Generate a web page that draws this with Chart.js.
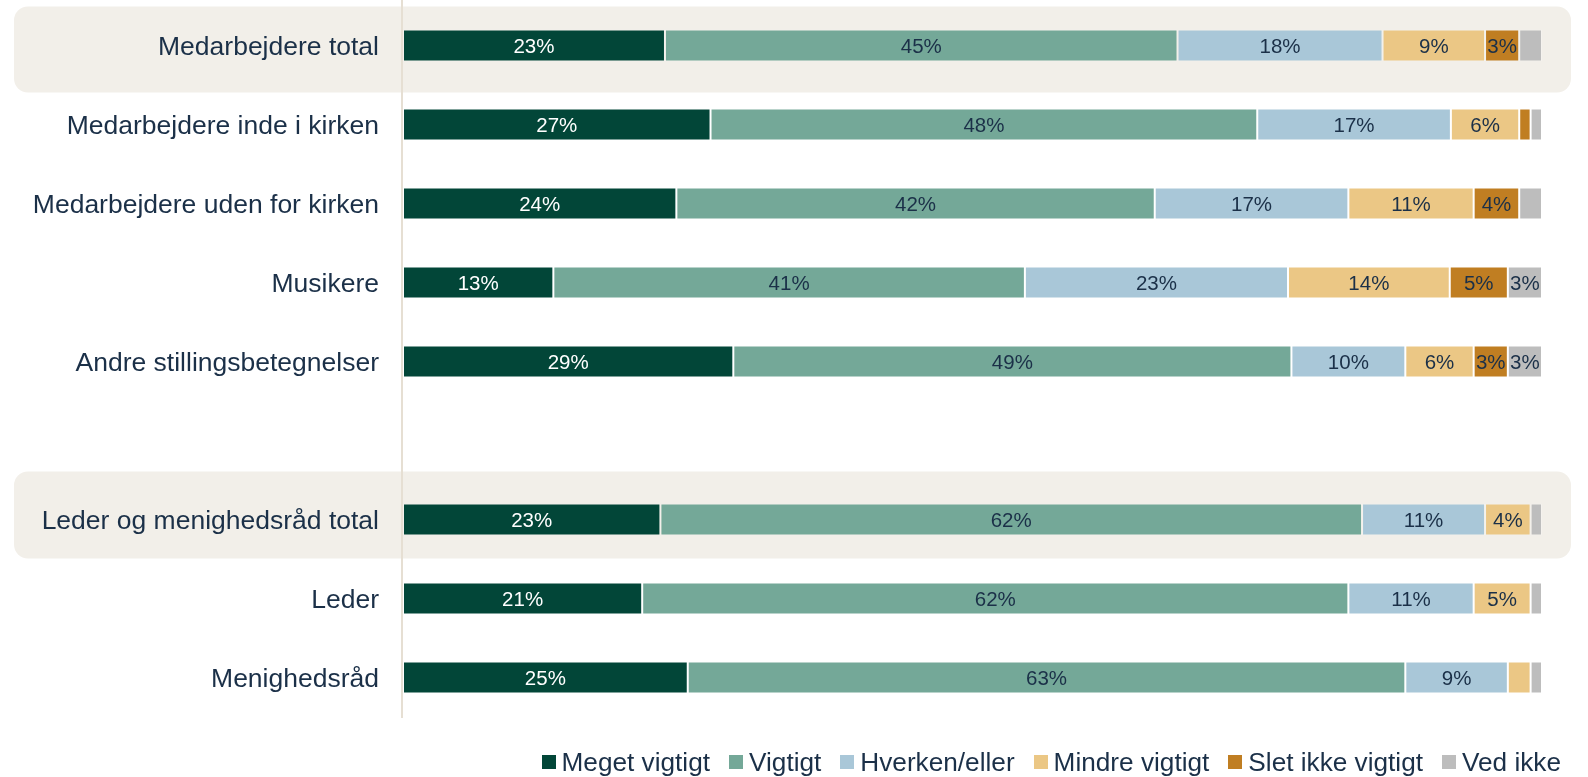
<!DOCTYPE html>
<html>
<head>
<meta charset="utf-8">
<script src="https://cdn.jsdelivr.net/npm/chart.js@4/dist/chart.umd.min.js"></script>
<style>
  html, body { margin: 0; padding: 0; background: #ffffff; }
  #wrap { position: relative; width: 1588px; height: 777px; }
  canvas { display: block; }
  #legend {
    position: absolute; right: 27px; top: 747px; height: 30px;
    display: flex; align-items: center; gap: 19px;
    font-family: "Liberation Sans", Arial, sans-serif; font-size: 26.2px; color: #1B3048;
    line-height: 30px; white-space: nowrap;
  }
  #legend .item { display: flex; align-items: center; }
  #legend .sw { width: 14px; height: 14px; margin-right: 6px; flex: none; }
</style>
</head>
<body>
<div id="wrap">
  <canvas id="c" width="1588" height="777"></canvas>
  <div id="legend"></div>
</div>
<script>
const categories = [
  'Medarbejdere total',
  'Medarbejdere inde i kirken',
  'Medarbejdere uden for kirken',
  'Musikere',
  'Andre stillingsbetegnelser',
  '',
  'Leder og menighedsråd total',
  'Leder',
  'Menighedsråd'
];
const seriesNames = ['Meget vigtigt', 'Vigtigt', 'Hverken/eller', 'Mindre vigtigt', 'Slet ikke vigtigt', 'Ved ikke'];
const megetVigtigt = [23, 27, 24, 13.2, 29, null, 22.6, 21, 25];
const vigtigt      = [45, 48, 42, 41.4, 49, null, 61.6, 62, 63];
const hverken      = [18, 17, 17, 23.1, 10, null, 10.8, 11, 9];
const mindre       = [9, 6, 11, 14.2, 6, null, 4, 5, 2];
const sletIkke     = [3, 1, 4, 5.1, 3, null, 0, 0, 0];
const vedIkke      = [2, 1, 2, 3, 3, null, 1, 1, 1];
const highlightedRows = [0, 6];

const seriesValues = [megetVigtigt, vigtigt, hverken, mindre, sletIkke, vedIkke];
const colors = ['#024638', '#74A898', '#A9C7D8', '#EBC785', '#C07E22', '#BDBDBD'];
const labelColors = ['#FFFFFF', '#1B3048', '#1B3048', '#1B3048', '#1B3048', '#1B3048'];
const FONT = '"Liberation Sans", Arial, sans-serif';
const TEXT = '#1B3048';

const boxStyle = { 0: { up: 39, down: 47 }, 6: { up: 48, down: 39 } };

const bgPlugin = {
  id: 'bgBoxes',
  beforeDraw(chart) {
    const { ctx, scales: { y } } = chart;
    ctx.save();
    ctx.fillStyle = '#F2EFE9';
    highlightedRows.forEach(i => {
      const cy = y.getPixelForValue(i);
      const s = boxStyle[i] || { up: 43, down: 43 };
      ctx.beginPath();
      ctx.roundRect(14, cy - s.up, 1571 - 14, s.up + s.down, 14);
      ctx.fill();
    });
    ctx.strokeStyle = '#E6DFD3';
    ctx.lineWidth = 2;
    ctx.beginPath();
    ctx.moveTo(chart.chartArea.left - 1, 0);
    ctx.lineTo(chart.chartArea.left - 1, chart.chartArea.bottom + 1);
    ctx.stroke();
    ctx.restore();
  }
};

const labelPlugin = {
  id: 'segLabels',
  afterDatasetsDraw(chart) {
    const { ctx } = chart;
    ctx.save();
    ctx.font = '20.5px ' + FONT;
    ctx.textAlign = 'center';
    ctx.textBaseline = 'middle';
    chart.data.datasets.forEach((ds, di) => {
      const meta = chart.getDatasetMeta(di);
      meta.data.forEach((bar, i) => {
        const v = ds.data[i];
        if (v == null) return;
        const r = Math.round(v);
        if (r < 3) return;
        const p = bar.getProps(['x', 'y', 'base'], true);
        ctx.fillStyle = labelColors[di];
        ctx.fillText(r + '%', (p.x + p.base) / 2, p.y + 1.5);
      });
    });
    ctx.restore();
  }
};

const chart = new Chart(document.getElementById('c'), {
  type: 'bar',
  data: {
    labels: categories,
    datasets: seriesNames.map((n, k) => ({
      label: n,
      data: seriesValues[k],
      backgroundColor: colors[k],
      borderColor: 'rgba(255,255,255,0.22)',
      borderWidth: 1,
      borderSkipped: false,
      categoryPercentage: 1,
      barPercentage: 32 / 79
    }))
  },
  options: {
    indexAxis: 'y',
    responsive: false,
    animation: false,
    devicePixelRatio: 1,
    layout: { padding: { top: 6, right: 46, bottom: 60, left: 0 } },
    plugins: {
      legend: { display: false },
      tooltip: { enabled: false }
    },
    scales: {
      x: { stacked: true, min: 0, max: 100, display: false },
      y: {
        stacked: true,
        grid: { display: false, drawTicks: false },
        border: { display: false },
        ticks: { color: TEXT, font: { family: FONT, size: 26.5 }, padding: 24, autoSkip: false, labelOffset: 2 },
        afterFit(scale) {
          scale.width = 403;
          scale.paddingTop = 0;
          scale.paddingBottom = 0;
        }
      }
    }
  },
  plugins: [bgPlugin, labelPlugin]
});

const legend = document.getElementById('legend');
seriesNames.forEach((n, k) => {
  const it = document.createElement('div');
  it.className = 'item';
  const sw = document.createElement('span');
  sw.className = 'sw';
  sw.style.background = colors[k];
  const tx = document.createElement('span');
  tx.textContent = n;
  it.appendChild(sw);
  it.appendChild(tx);
  legend.appendChild(it);
});
</script>
</body>
</html>
